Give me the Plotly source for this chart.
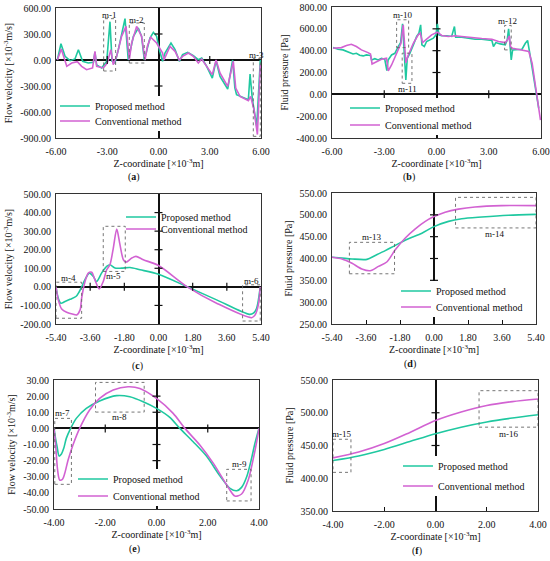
import plotly.graph_objects as go

FONT = "Liberation Serif"
TEAL = "#1FC8A0"
MAGENTA = "#D262D2"
SERIES_NAMES = ["Proposed method", "Conventional method"]

# ---------------- Panel (a): flow velocity ----------------
A_X_PROP = [-5.92, -5.71, -5.47, -5.18, -4.89, -4.69, -4.44, -4.11, -3.81, -3.72, -3.62, -3.33, -3.03,
            -2.84, -2.72, -2.55, -2.35, -2.16, -1.96, -1.77, -1.63, -1.47, -1.18, -0.99, -0.83, -0.69,
            -0.50, -0.30, -0.11, 0.05, 0.24, 0.38, 0.73, 0.97, 1.22, 1.41, 1.71, 2.04, 2.33, 2.53, 2.82,
            3.15, 3.37, 3.60, 4.05, 4.34, 4.47, 4.57, 4.96, 5.26, 5.36, 5.49, 5.75, 5.96]
A_Y_PROP = [0, 188, 42, -8, 12, 119, -15, -35, -27, 92, -58, -92, -15,
            442, -15, -35, 119, 312, 477, 0, 119, 273, 369, 273, 0, 119,
            254, 319, 273, 119, -15, 81, 196, 119, -15, 62, 88, 50, 4, 23, -73,
            -208, -8, -189, -335, 0, -323, -400, -438, -458, -162, -446, -765, 0]
A_X_CONV = [-5.92, -5.69, -5.37, -5.08, -4.75, -4.50, -4.21, -3.86, -3.72, -3.62, -3.23, -3.00, -2.79,
            -2.65, -2.45, -2.16, -1.90, -1.71, -1.57, -1.28, -0.99, -0.79, -0.65, -0.46, -0.11, 0.24,
            0.32, 0.44, 0.67, 0.97, 1.22, 1.41, 1.75, 2.04, 2.33, 2.53, 2.82, 3.15, 3.37, 3.60, 4.05,
            4.38, 4.52, 4.77, 5.26, 5.39, 5.59, 5.79, 5.96]
A_Y_CONV = [0, 127, -73, -35, -19, -73, -112, -92, 100, -73, -92, -35, 119,
            -54, 42, 273, 388, 0, 196, 388, 273, 0, 158, 262, 196, 81,
            0, 62, 158, 100, 0, 42, 81, 42, -35, 12, -73, -169, 0, -150, -304,
            -15, -323, -420, -470, -420, -573, -860, -54]

# ---------------- Panel (b): fluid pressure ----------------
B_X_PROP = [-5.94, -5.65, -5.37, -5.17, -4.98, -4.79, -4.60, -4.41, -4.21, -4.02, -3.79, -3.73, -3.54,
            -3.35, -3.16, -2.97, -2.85, -2.78, -2.58, -2.39, -2.20, -2.06, -1.95, -1.85, -1.76, -1.68,
            -1.53, -1.33, -1.14, -1.01, -0.91, -0.84, -0.70, -0.57, -0.37, -0.18, -0.03, 0.05, 0.14,
            0.30, 0.59, 0.87, 1.03, 1.10, 1.45, 1.83, 2.22, 2.60, 2.89, 3.18, 3.27, 3.41, 3.66, 3.95,
            4.06, 4.14, 4.22, 4.29, 4.37, 4.62, 4.91, 5.10, 5.23, 5.33, 5.49, 5.64, 5.87]
B_Y_PROP = [428, 413, 407, 392, 382, 370, 376, 358, 352, 361, 355, 315, 327,
            315, 330, 321, 217, 315, 361, 376, 438, 474, 646, 407, 132, 330,
            376, 453, 530, 560, 637, 453, 438, 484, 499, 514, 545, 646, 545,
            536, 536, 530, 621, 523, 523, 514, 505, 505, 499, 493, 438, 474, 462, 453,
            499, 600, 453, 315, 407, 407, 413, 468, 493, 400, 250, 110, -129]
B_X_CONV = [-5.94, -5.46, -5.17, -4.89, -4.60, -4.31, -3.93, -3.79, -3.70, -3.44, -3.16, -2.87, -2.77,
            -2.58, -2.39, -2.16, -2.04, -1.91, -1.83, -1.76, -1.62, -1.33, -1.05, -0.93, -0.80, -0.57,
            -0.28, 0.05, 0.30, 0.68, 1.07, 1.45, 2.22, 2.60, 3.18, 3.56, 3.95, 4.08, 4.18, 4.25, 4.37,
            4.91, 5.30, 5.49, 5.68, 5.97]
B_Y_CONV = [422, 428, 447, 459, 438, 407, 382, 370, 278, 300, 321, 330, 214,
            269, 340, 413, 468, 637, 407, 290, 361, 468, 545, 560, 474, 505,
            545, 569, 539, 530, 536, 530, 514, 511, 505, 484, 474, 499, 536, 438, 422,
            401, 392, 285, 70, -236]

# ---------------- Panel (c): flow velocity ----------------
C_X_PROP = [-5.40, -5.28, -5.14, -4.93, -4.66, -4.35, -4.17, -4.05, -3.88, -3.64, -3.43, -3.26, -3.00,
            -2.73, -2.56, -2.29, -1.94, -1.50, -0.97, 0.00, 1.57, 3.06, 4.79, 5.00, 5.17, 5.36]
C_Y_PROP = [0, -61, -88, -79, -67, -52, -25, 0, 38, 74, 56, 29, 74,
            110, 119, 101, 101, 104, 92, 68, -2, -70, -148, -142, -115, 0]
C_X_CONV = [-5.40, -5.28, -5.10, -4.84, -4.49, -4.31, -4.13, -4.05, -3.87, -3.70, -3.52, -3.35, -3.12,
            -2.91, -2.73, -2.56, -2.38, -2.20, -2.03, -1.85, -1.71, -1.41, -1.19, -0.80, 0.00, 1.52,
            3.06, 4.91, 5.09, 5.26, 5.36]
C_Y_CONV = [0, -70, -119, -137, -148, -151, -124, -61, 29, 74, 79, 38, -11,
            29, 92, 119, 209, 311, 227, 146, 133, 155, 164, 146, 115, 0,
            -88, -166, -151, -97, 0]

# ---------------- Panel (d): fluid pressure ----------------
D_X_PROP = [-5.40, -4.87, -4.34, -3.55, -3.11, -2.58, -2.05, -1.35, -0.64, 0.00, 0.77, 1.47, 2.53, 3.94, 5.40]
D_Y_PROP = [403, 401, 399, 398, 407, 418, 430, 445, 458, 473, 485, 491, 495, 499, 501]
D_X_CONV = [-5.40, -4.87, -4.34, -3.82, -3.38, -2.94, -2.50, -2.05, -1.52, -0.99, -0.46, 0.00, 0.59,
            1.29, 2.17, 3.58, 5.40]
D_Y_CONV = [403, 399, 389, 376, 372, 382, 392, 420, 447, 468, 485, 496, 506, 513, 518, 521, 521]

# ---------------- Panel (e): flow velocity ----------------
E_X_PROP = [-4.00, -3.93, -3.88, -3.80, -3.71, -3.62, -3.52, -3.35, -3.13, -2.74, -2.22, -1.56, -1.04,
            -0.52, 0.00, 0.52, 0.91, 1.43, 1.95, 2.48, 2.87, 3.13, 3.32, 3.52, 3.71, 3.84, 4.00]
E_Y_PROP = [0, -7.2, -11.4, -17.2, -15.9, -12.4, -6.2, 0, 6.2, 12.4, 17.0, 20.3, 19.6,
            16.5, 12.4, 6.8, 0, -8.3, -17.2, -29.6, -37.2, -38.7, -36.6, -30.0, -18.6, -9.3, 0]
E_X_CONV = [-4.00, -3.93, -3.86, -3.78, -3.67, -3.58, -3.45, -3.26, -3.00, -2.61, -2.22, -1.69, -1.11,
            -0.65, 0.00, 0.65, 1.11, 1.69, 2.22, 2.74, 3.06, 3.32, 3.58, 3.78, 3.91, 4.00]
E_Y_CONV = [0, -11.4, -25.8, -32.0, -31.6, -27.9, -19.6, -10.3, 0, 11.4, 18.6, 23.8, 25.8,
            24.8, 18.6, 9.3, 0, -10.3, -21.7, -35.1, -42.0, -40.7, -32.0, -18.6, -8.3, 0]

# ---------------- Panel (f): fluid pressure ----------------
F_X_PROP = [-4, -3, -2, -1, 0, 1, 2, 3, 4]
F_Y_PROP = [427, 434, 444, 456, 468, 478, 486, 492, 497]
F_X_CONV = [-4, -3, -2, -1, 0, 1, 2, 3, 4]
F_Y_CONV = [431, 440, 453, 470, 488, 501, 511, 517, 521]

# ---------------- Axis ticks ----------------
A_XTICKS = [-6, -3, 0, 3, 6]
A_YTICKS = [-900, -600, -300, 0, 300, 600]
B_XTICKS = [-6, -3, 0, 3, 6]
B_YTICKS = [-400, -200, 0, 200, 400, 600, 800]
C_XTICKS = [-5.4, -3.6, -1.8, 0, 1.8, 3.6, 5.4]
C_YTICKS = [-200, -100, 0, 100, 200, 300, 400, 500]
D_XTICKS = [-5.4, -3.6, -1.8, 0, 1.8, 3.6, 5.4]
D_YTICKS = [250, 300, 350, 400, 450, 500, 550]
E_XTICKS = [-4, -2, 0, 2, 4]
E_YTICKS = [-50, -40, -30, -20, -10, 0, 10, 20, 30]
F_XTICKS = [-4, -2, 0, 2, 4]
F_YTICKS = [350, 400, 450, 500, 550]

# Marked regions: label, x0, x1, y0, y1, label x, label y
A_BOXES = [("m-1", -3.21, -2.51, -127, 477, -2.86, 515),
           ("m-2", -1.71, -0.83, -35, 427, -1.27, 458),
           ("m-3", 5.55, 5.96, -881, 19, 5.76, 52)]
B_BOXES = [("m-10", -2.29, -1.60, 428, 683, -1.95, 728),
           ("m-11", -1.97, -1.41, 101, 377, -1.69, 46),
           ("m-12", 3.91, 4.29, 407, 631, 4.10, 676)]
C_BOXES = [("m-4", -5.40, -4.05, -169, 25, -4.75, 50),
           ("m-5", -2.91, -1.75, 83, 326, -2.38, 61),
           ("m-6", 4.43, 5.36, -184, 11, 4.90, 32)]
D_BOXES = [("m-13", -4.48, -2.09, 365, 437, -3.30, 449),
           ("m-14", 1.14, 5.40, 470, 540, 3.20, 457)]
E_BOXES = [("m-7", -3.97, -3.32, -34.7, 6.2, -3.65, 9.3),
           ("m-8", -2.38, -0.48, 10.1, 28.5, -1.43, 7.0),
           ("m-9", 2.74, 3.69, -45.0, -25.4, 3.22, -22.3)]
F_BOXES = [("m-15", -4.00, -3.30, 409, 459.5, -3.65, 468),
           ("m-16", 1.70, 4.00, 478, 533.7, 2.85, 467)]

VEL_TITLE = "Flow velocity [×10<sup>-3</sup>m/s]"
PRES_TITLE = "Fluid pressure [Pa]"
Z_TITLE = "Z-coordinate [×10<sup>-3</sup>m]"

W, H = 550, 561


def fx(px):
    return px / W


def fy(py):
    return 1 - py / H


# leg = (text start x, row-1 centre y, row-2 centre y) in pixels; mask = opaque legend area
panels = [
    dict(tag="a", data=(A_X_PROP, A_Y_PROP, A_X_CONV, A_Y_CONV), xt=A_XTICKS, yt=A_YTICKS,
         ytitle=VEL_TITLE, box=(56, 261, 8, 138), boxes=A_BOXES, shape="linear",
         leg=(95, 106, 121), mask=True, lab=(134, 177)),
    dict(tag="b", data=(B_X_PROP, B_Y_PROP, B_X_CONV, B_Y_CONV), xt=B_XTICKS, yt=B_YTICKS,
         ytitle=PRES_TITLE, box=(332, 541, 7, 138), boxes=B_BOXES, shape="linear",
         leg=(385, 108, 125), mask=True, lab=(409, 177)),
    dict(tag="c", data=(C_X_PROP, C_Y_PROP, C_X_CONV, C_Y_CONV), xt=C_XTICKS, yt=C_YTICKS,
         ytitle=VEL_TITLE, box=(56, 261, 194, 324), boxes=C_BOXES, shape="spline",
         leg=(161, 217, 229), mask=False, lab=(137, 366)),
    dict(tag="d", data=(D_X_PROP, D_Y_PROP, D_X_CONV, D_Y_CONV), xt=D_XTICKS, yt=D_YTICKS,
         ytitle=PRES_TITLE, box=(332, 536, 193, 324), boxes=D_BOXES, shape="spline",
         leg=(436, 291, 307), mask=True, lab=(410, 364)),
    dict(tag="e", data=(E_X_PROP, E_Y_PROP, E_X_CONV, E_Y_CONV), xt=E_XTICKS, yt=E_YTICKS,
         ytitle=VEL_TITLE, box=(54, 259, 380, 509), boxes=E_BOXES, shape="spline",
         leg=(113, 479, 496), mask=True, lab=(134, 549)),
    dict(tag="f", data=(F_X_PROP, F_Y_PROP, F_X_CONV, F_Y_CONV), xt=F_XTICKS, yt=F_YTICKS,
         ytitle=PRES_TITLE, box=(333, 538, 380, 511), boxes=F_BOXES, shape="spline",
         leg=(438, 466, 486), mask=True, lab=(417, 551)),
]

fig = go.Figure()
shapes = []
masks = []
annotations = []
layout = {}
tickfont = dict(family=FONT, size=10, color="#111")
k = 0

for i, p in enumerate(panels):
    n = "" if i == 0 else str(i + 1)
    xa, ya = "x" + n, "y" + n
    xp, yp, xc, yc = p["data"]
    line_extra = dict(smoothing=0.8) if p["shape"] == "spline" else {}
    tx0, row1, row2 = p["leg"]
    for (xs, ys, name, color, row) in ((xp, yp, SERIES_NAMES[0], TEAL, row1),
                                        (xc, yc, SERIES_NAMES[1], MAGENTA, row2)):
        legname = "legend" if k == 0 else f"legend{k + 1}"
        k += 1
        fig.add_trace(go.Scatter(x=xs, y=ys, mode="lines", name=name, xaxis=xa, yaxis=ya,
                                 legend=legname,
                                 line=dict(color=color, width=1.6, shape=p["shape"], **line_extra)))
        layout[legname] = dict(x=fx(tx0 - 40), y=fy(row), xanchor="left", yanchor="middle",
                               bgcolor="rgba(0,0,0,0)", borderwidth=0, itemwidth=30,
                               font=dict(family=FONT, size=10, color="#111"),
                               tracegroupgap=0)
    if p["mask"]:
        masks.append(dict(type="rect", xref="paper", yref="paper", layer="above",
                          x0=fx(tx0 - 37), x1=fx(tx0 + 90), y0=fy(row2 + 10), y1=fy(row1 - 10),
                          fillcolor="white", line=dict(width=0)))
    l, r, t, b = p["box"]
    xt, yt = p["xt"], p["yt"]
    xmin, xmax = xt[0], xt[-1]
    ymin, ymax = yt[0], yt[-1]
    zero_in_y = ymin < 0 < ymax
    layout["xaxis" + n] = dict(
        domain=[fx(l), fx(r)], range=[xmin, xmax], anchor=ya, automargin=False,
        tickvals=xt, ticktext=[f"{v:.2f}" for v in xt], tickfont=tickfont,
        showgrid=False, zeroline=True, zerolinecolor="#111", zerolinewidth=1.6,
        showline=True, mirror=True, linecolor="#333", linewidth=1,
        ticks="" if zero_in_y else "inside", ticklen=4, tickcolor="#111",
        ticklabelstandoff=4,
        title=dict(text=Z_TITLE, font=dict(family=FONT, size=10, color="#111"), standoff=2),
    )
    layout["yaxis" + n] = dict(
        domain=[fy(b), fy(t)], range=[ymin, ymax], anchor=xa, automargin=False,
        tickvals=yt, ticktext=[f"{v:.2f}" for v in yt], tickfont=tickfont,
        showgrid=False, zeroline=True, zerolinecolor="#111", zerolinewidth=1.6,
        showline=True, mirror=True, linecolor="#333", linewidth=1,
        ticks="", ticklabelstandoff=2,
        title=dict(text=p["ytitle"], font=dict(family=FONT, size=10, color="#111"), standoff=5),
    )
    # cross tick marks on the central axes
    for v in yt:
        if v in (ymin, ymax, 0):
            continue
        shapes.append(dict(type="line", xref=xa, yref=ya, xsizemode="pixel", xanchor=0,
                           x0=-4, x1=4, y0=v, y1=v, line=dict(color="#111", width=1.2)))
    if zero_in_y:
        for v in xt:
            if v in (xmin, xmax, 0):
                continue
            shapes.append(dict(type="line", xref=xa, yref=ya, ysizemode="pixel", yanchor=0,
                               y0=-4, y1=4, x0=v, x1=v, line=dict(color="#111", width=1.2)))
    # marked regions
    for lab, x0, x1, y0, y1, lx, ly in p["boxes"]:
        shapes.append(dict(type="rect", xref=xa, yref=ya, x0=x0, x1=x1, y0=y0, y1=y1,
                           line=dict(color="#666", width=0.9, dash="dot")))
        annotations.append(dict(text=lab, xref=xa, yref=ya, x=lx, y=ly, showarrow=False,
                                xanchor="center", yanchor="middle",
                                font=dict(family=FONT, size=9, color="#111")))
    cx, cy = p["lab"]
    annotations.append(dict(text=f"(<b>{p['tag']}</b>)", xref="paper", yref="paper",
                            x=fx(cx), y=fy(cy), showarrow=False,
                            xanchor="center", yanchor="middle",
                            font=dict(family=FONT, size=10, color="#111")))

fig.update_layout(
    width=W, height=H, margin=dict(l=0, r=0, t=0, b=0),
    paper_bgcolor="white", plot_bgcolor="white",
    shapes=shapes + masks, annotations=annotations, showlegend=True,
    **layout,
)

fig.write_html("out.html", config={"displayModeBar": False},
               post_script="document.body.style.margin='0px';")
